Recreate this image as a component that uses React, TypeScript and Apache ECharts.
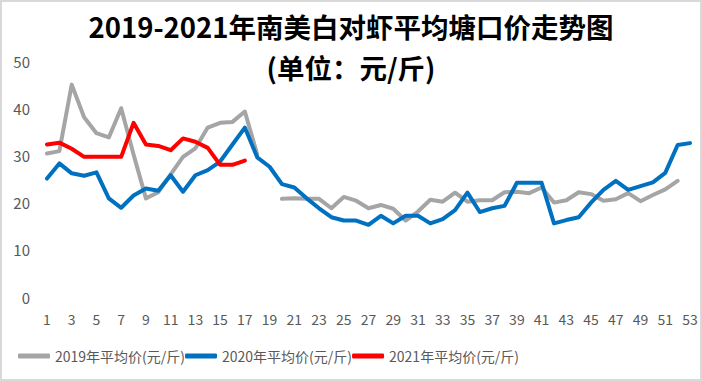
import React, { useEffect, useRef } from "react";
import * as echarts from "echarts";

const weeks: string[] = Array.from({ length: 53 }, (_, i) => String(i + 1));

const s2019: (number | null)[] = [
  30.4, 30.9, 45, 38.1, 34.7, 33.8, 40, 30.2, 20.9, 22.2,
  26, 29.7, 31.5, 35.9, 36.9, 37.1, 39.3, 30.2, null, 20.8,
  20.9, 20.8, 20.8, 18.8, 21.2, 20.4, 18.8, 19.5, 18.7, 16.2,
  18.1, 20.6, 20.2, 22.1, 20.2, 20.5, 20.5, 22.2, 22.3, 22,
  23.2, 20, 20.5, 22.2, 21.8, 20.4, 20.7, 22, 20.3, 21.6,
  22.8, 24.6, null,
];

const s2020: number[] = [
  25.1, 28.3, 26.2, 25.7, 26.4, 20.9, 18.9, 21.5, 23, 22.5,
  25.8, 22.3, 25.8, 26.9, 28.7, 32.3, 35.9, 29.6, 27.6, 23.9,
  23.2, 20.9, 18.8, 16.9, 16.2, 16.2, 15.3, 17.2, 15.6, 17.2,
  17.2, 15.6, 16.5, 18.4, 22.1, 18, 18.8, 19.3, 24.2, 24.2,
  24.2, 15.6, 16.3, 16.9, 20, 22.7, 24.6, 22.7, 23.5, 24.3,
  26.3, 32.2, 32.6,
];

const s2021: number[] = [
  32.3, 32.7, 31.4, 29.7, 29.7, 29.7, 29.7, 36.9, 32.3, 32,
  31.1, 33.6, 32.9, 31.6, 28, 28, 28.9,
];

const seriesNames = ["2019年平均价(元/斤)", "2020年平均价(元/斤)", "2021年平均价(元/斤)"];
const seriesColors = ["#A5A5A5", "#0070C0", "#FF0000"];

const titleLine1 = "2019-2021年南美白对虾平均塘口价走势图";
const titleLine2 = "(单位：元/斤)";

export default function App() {
  const ref = useRef<HTMLDivElement>(null);
  useEffect(() => {
    if (!ref.current) return;
    const chart = echarts.init(ref.current, undefined, { renderer: "svg" });
    const font = "'Noto Sans CJK SC', 'Noto Sans', sans-serif";
    const datas = [s2019, s2020, s2021];
    const titleStyle = {
      fontFamily: font,
      fontSize: 27.5,
      fontWeight: "bold",
      color: "#000000",
      lineHeight: 30,
    };
    chart.setOption({
      animation: false,
      backgroundColor: "#ffffff",
      textStyle: { fontFamily: font },
      title: [
        { text: titleLine1, left: "center", top: 11, padding: 0, textStyle: titleStyle },
        { text: titleLine2, left: "center", top: 52, padding: 0, textStyle: titleStyle },
      ],
      graphic: [
        {
          type: "rect",
          shape: { x: 1, y: 1, width: 700, height: 379 },
          style: { fill: "none", stroke: "#d9d9d9", lineWidth: 2 },
          silent: true,
        },
      ],
      legend: {
        left: 13,
        bottom: 13,
        itemWidth: 32,
        itemHeight: 5,
        itemGap: 0,
        icon: "roundRect",
        textStyle: { color: "#595959", fontSize: 14, fontFamily: font },
        data: seriesNames,
      },
      grid: { left: 47, right: 12, top: 61, bottom: 84, containLabel: false },
      xAxis: {
        type: "category",
        data: weeks,
        boundaryGap: false,
        axisLine: { show: false },
        axisTick: { show: false },
        splitLine: { show: false },
        axisLabel: {
          interval: 1,
          color: "#595959",
          fontSize: 14,
          margin: 15,
          fontFamily: font,
        },
      },
      yAxis: {
        type: "value",
        min: 0,
        max: 50,
        interval: 10,
        axisLine: { show: false },
        axisTick: { show: false },
        splitLine: { show: false },
        axisLabel: { color: "#595959", fontSize: 15, margin: 17, fontFamily: font },
      },
      series: seriesNames.map((name, i) => ({
        name,
        type: "line",
        data: datas[i],
        showSymbol: false,
        symbol: "none",
        connectNulls: false,
        lineStyle: { width: 4, color: seriesColors[i], cap: "round", join: "round" },
        itemStyle: { color: seriesColors[i] },
        z: i === 2 ? 3 : i === 1 ? 2 : 1,
      })),
    });
    return () => chart.dispose();
  }, []);
  return (
    <div
      ref={ref}
      style={{ position: "fixed", left: 0, top: 0, width: 702, height: 381 }}
    />
  );
}
